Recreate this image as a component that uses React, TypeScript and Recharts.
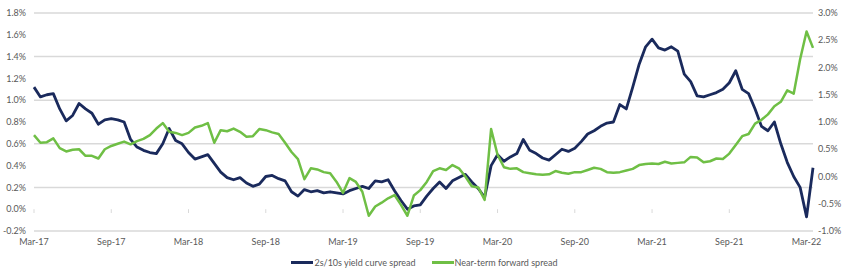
import React from "react";
import {
  LineChart, Line, XAxis, YAxis, CartesianGrid, Legend, ReferenceLine,
} from "recharts";

// half-monthly readings, Mar-17 .. Mar-22
const spread2s10s = [
  1.12, 1.03, 1.05, 1.06, 0.92, 0.81, 0.86, 0.97, 0.92, 0.88,
  0.78, 0.82, 0.83, 0.82, 0.80, 0.64, 0.57, 0.54, 0.52, 0.51,
  0.60, 0.74, 0.63, 0.60, 0.52, 0.46, 0.48, 0.50, 0.42, 0.34,
  0.29, 0.27, 0.29, 0.24, 0.21, 0.23, 0.30, 0.31, 0.28, 0.26,
  0.16, 0.12, 0.18, 0.16, 0.17, 0.15, 0.16, 0.15, 0.14, 0.17,
  0.19, 0.21, 0.19, 0.26, 0.25, 0.27, 0.17, 0.08, 0.00, 0.03,
  0.04, 0.12, 0.19, 0.25, 0.19, 0.26, 0.29, 0.32, 0.25, 0.19,
  0.11, 0.40, 0.50, 0.44, 0.48, 0.51, 0.64, 0.54, 0.51, 0.47,
  0.45, 0.50, 0.55, 0.53, 0.56, 0.62, 0.69, 0.72, 0.76, 0.79,
  0.80, 0.96, 0.92, 1.12, 1.33, 1.49, 1.56, 1.48, 1.46, 1.49,
  1.45, 1.24, 1.17, 1.04, 1.03, 1.05, 1.07, 1.10, 1.16, 1.27,
  1.10, 1.06, 0.92, 0.76, 0.72, 0.80, 0.60, 0.43, 0.30, 0.20,
  -0.07, 0.38,
];

const nearTermFwd = [
  0.76, 0.62, 0.63, 0.70, 0.52, 0.46, 0.49, 0.50, 0.38, 0.38,
  0.33, 0.50, 0.56, 0.60, 0.64, 0.59, 0.65, 0.69, 0.76, 0.88,
  0.98, 0.82, 0.80, 0.76, 0.80, 0.90, 0.93, 0.98, 0.62, 0.85,
  0.83, 0.88, 0.82, 0.73, 0.74, 0.87, 0.85, 0.81, 0.78, 0.62,
  0.45, 0.32, -0.05, 0.15, 0.13, 0.08, 0.06, -0.10, -0.30, -0.03,
  -0.10, -0.28, -0.72, -0.55, -0.48, -0.40, -0.34, -0.52, -0.72, -0.35,
  -0.25, -0.10, 0.10, 0.15, 0.12, 0.21, 0.15, 0.00, -0.18, -0.20,
  -0.43, 0.87, 0.40, 0.17, 0.14, 0.15, 0.08, 0.06, 0.04, 0.03,
  0.04, 0.10, 0.07, 0.05, 0.08, 0.08, 0.12, 0.16, 0.14, 0.08,
  0.07, 0.08, 0.11, 0.14, 0.21, 0.23, 0.24, 0.23, 0.27, 0.24,
  0.25, 0.26, 0.36, 0.35, 0.26, 0.28, 0.33, 0.32, 0.42, 0.58,
  0.74, 0.78, 0.97, 1.04, 1.14, 1.29, 1.37, 1.58, 1.52, 2.15,
  2.66, 2.36,
];

const xTicks = [0, 6, 12, 18, 24, 30, 36, 42, 48, 54, 60];
const xTickLabels = [
  "Mar-17", "Sep-17", "Mar-18", "Sep-18", "Mar-19", "Sep-19",
  "Mar-20", "Sep-20", "Mar-21", "Sep-21", "Mar-22",
];
const leftTicks = [-0.2, 0, 0.2, 0.4, 0.6, 0.8, 1.0, 1.2, 1.4, 1.6, 1.8];
const rightTicks = [-1.0, -0.5, 0, 0.5, 1.0, 1.5, 2.0, 2.5, 3.0];

const NAVY = "#1a2a5c";
const GREEN = "#6fbf45";
const GRID = "#d9d9d9";
const TEXT = "#595959";
const FONT = "Lato, 'Open Sans', sans-serif";

const data = spread2s10s.map((v, i) => ({
  t: i / 2,
  curve: v,
  fwd: nearTermFwd[i],
}));

const tickStyle = { fill: TEXT, fontSize: 9, fontFamily: FONT };

function LegendContent() {
  const items = [
    { name: "2s/10s yield curve spread", color: NAVY },
    { name: "Near-term forward spread", color: GREEN },
  ];
  return (
    <div style={{
      height: 22, display: "flex", justifyContent: "center", alignItems: "center",
      gap: 16, fontFamily: FONT, fontSize: 9, color: TEXT,
    }}>
      {items.map((it) => (
        <div key={it.name} style={{ display: "flex", alignItems: "center" }}>
          <span style={{ display: "inline-block", width: 22, height: 3, background: it.color, marginRight: 1 }} />
          <span>{it.name}</span>
        </div>
      ))}
    </div>
  );
}

export default function App() {
  return (
    <div style={{ position: "absolute", left: 0, top: 0 }}>
      <LineChart
        width={849} height={273} data={data}
        margin={{ top: 13, right: 0, left: 0, bottom: 0 }}
      >
        <CartesianGrid yAxisId="left" vertical={false} stroke={GRID} strokeWidth={1.5} />
        <XAxis
          dataKey="t" type="number" domain={[0, 60.5]} ticks={xTicks}
          tickFormatter={(v) => xTickLabels[xTicks.indexOf(v)] ?? ""}
          tick={tickStyle} axisLine={false} tickLine={false} height={20}
          interval={0}
        />
        <YAxis
          yAxisId="left" domain={[-0.2, 1.8]} ticks={leftTicks}
          tickFormatter={(v) => `${v.toFixed(1)}%`}
          tick={tickStyle} axisLine={false} tickLine={false} width={34}
        />
        <YAxis
          yAxisId="right" orientation="right" domain={[-1, 3]} ticks={rightTicks}
          tickFormatter={(v) => `${v.toFixed(1)}%`}
          tick={tickStyle} axisLine={false} tickLine={false} width={36} tickSize={3}
        />
        {xTicks.map((t) => (
          <ReferenceLine
            key={t} yAxisId="left" stroke={GRID} strokeWidth={1}
            segment={[{ x: t, y: 0 }, { x: t, y: -0.035 }]}
          />
        ))}
        <Legend verticalAlign="bottom" content={<LegendContent />} />
        <Line
          yAxisId="left" dataKey="curve" name="2s/10s yield curve spread"
          stroke={NAVY} strokeWidth={2.8} dot={false} isAnimationActive={false}
          strokeLinejoin="round"
        />
        <Line
          yAxisId="right" dataKey="fwd" name="Near-term forward spread"
          stroke={GREEN} strokeWidth={2.5} dot={false} isAnimationActive={false}
          strokeLinejoin="round"
        />
      </LineChart>
    </div>
  );
}
